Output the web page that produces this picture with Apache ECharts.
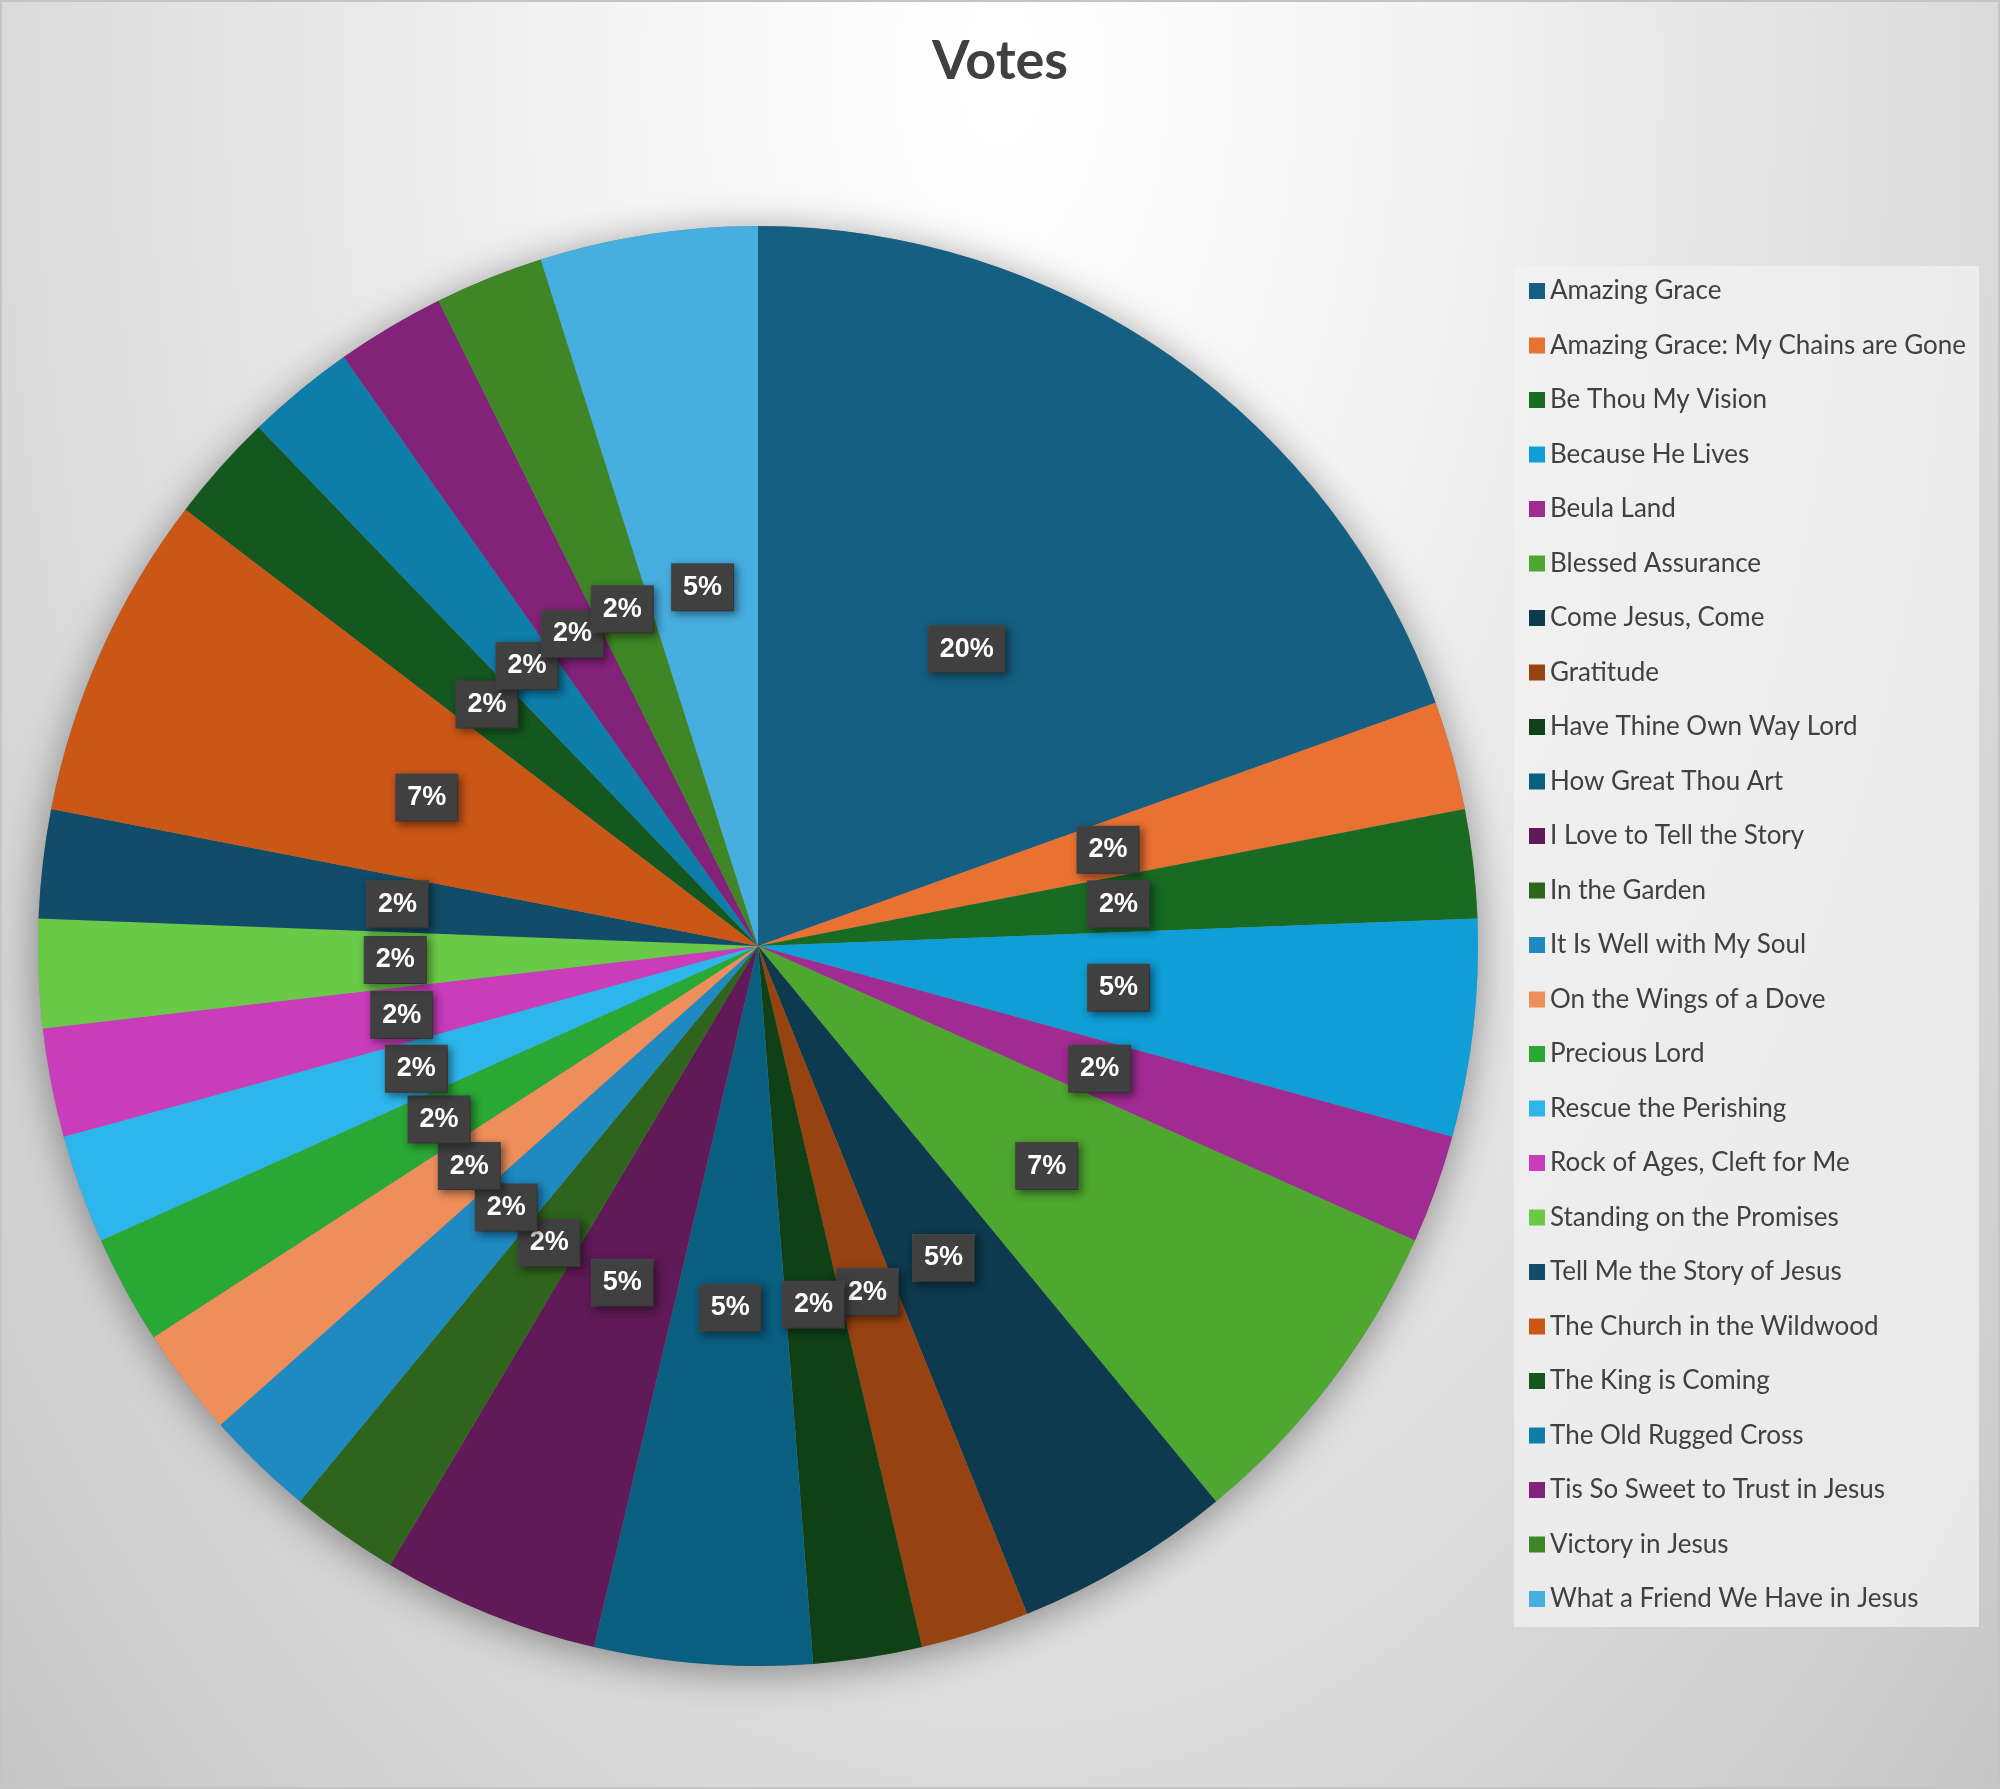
<!DOCTYPE html>
<html>
<head>
<meta charset="utf-8">
<title>Votes</title>
<script src="https://cdn.jsdelivr.net/npm/echarts@6/dist/echarts.min.js"></script>
<style>
    html, body { margin: 0; padding: 0; }
    #chart {
        width: 2000px;
        height: 1789px;
        box-sizing: border-box;
        border: 2px solid #c4c4c4;
        background: radial-gradient(ellipse at 50% 4%, #ffffff 0%, #f6f6f6 25%, #dcdcdc 68%, #c6c6c6 100%);
    }
</style>
</head>
<body>
<div id="chart"></div>
<script>
    // 歌曲名称（图例顺序）
    var songNames = [
        'Amazing Grace',
        'Amazing Grace: My Chains are Gone',
        'Be Thou My Vision',
        'Because He Lives',
        'Beula Land',
        'Blessed Assurance',
        'Come Jesus, Come',
        'Gratitude',
        'Have Thine Own Way Lord',
        'How Great Thou Art',
        'I Love to Tell the Story',
        'In the Garden',
        'It Is Well with My Soul',
        'On the Wings of a Dove',
        'Precious Lord',
        'Rescue the Perishing',
        'Rock of Ages, Cleft for Me',
        'Standing on the Promises',
        'Tell Me the Story of Jesus',
        'The Church in the Wildwood',
        'The King is Coming',
        'The Old Rugged Cross',
        'Tis So Sweet to Trust in Jesus',
        'Victory in Jesus',
        'What a Friend We Have in Jesus'
    ];

    // 票数
    var voteCounts = [8, 1, 1, 2, 1, 3, 2, 1, 1, 2, 2, 1, 1, 1, 1, 1, 1, 1, 1, 3, 1, 1, 1, 1, 2];

    // 扇区颜色
    var sliceColors = [
        '#156082', '#E97132', '#196B24', '#0F9ED5', '#A02B93', '#4EA72E',
        '#0D3A4F', '#974311', '#0F4016', '#095F80', '#601A58', '#2F641C',
        '#1F89C1', '#EE8E5B', '#2AA836', '#2DB6EC', '#C93DBB', '#69CA47',
        '#114D68', '#CB5716', '#15581F', '#0D7EAA', '#822278', '#3F8726',
        '#47AEE0'
    ];

    var totalVotes = 0;
    for (var i = 0; i < voteCounts.length; i++) {
        totalVotes += voteCounts[i];
    }

    var pieData = [];
    for (var j = 0; j < songNames.length; j++) {
        pieData.push({
            name: songNames[j],
            value: voteCounts[j],
            itemStyle: { color: sliceColors[j] }
        });
    }

    var chart = echarts.init(document.getElementById('chart'), null, { renderer: 'canvas' });
    var option = {
        backgroundColor: 'transparent',
        animation: false,
        title: {
            text: 'Votes',
            left: 'center',
            top: 28,
            textStyle: {
                fontFamily: 'Lato',
                fontWeight: 'bold',
                fontSize: 54,
                color: '#404040'
            }
        },
        legend: {
            orient: 'vertical',
            left: 1512,
            top: 264,
            data: songNames,
            icon: 'rect',
            itemWidth: 16,
            itemHeight: 16,
            itemGap: 24.5,
            padding: [10, 13, 13, 15],
            backgroundColor: 'rgba(242,242,242,0.75)',
            selectedMode: false,
            textStyle: {
                fontFamily: 'Lato',
                fontSize: 26,
                lineHeight: 30,
                color: '#404040',
                padding: [0, 0, 0, 0]
            }
        },
        series: [
            {
                // 阴影底盘
                type: 'pie',
                silent: true,
                center: [756, 944],
                radius: 720,
                label: { show: false },
                labelLine: { show: false },
                itemStyle: {
                    color: '#888888',
                    shadowBlur: 40,
                    shadowColor: 'rgba(0,0,0,0.4)',
                    shadowOffsetY: 6
                },
                data: [{ name: 'base', value: 1 }]
            },
            {
                name: 'Votes',
                type: 'pie',
                center: [756, 944],
                radius: 720,
                startAngle: 90,
                clockwise: true,
                avoidLabelOverlap: false,
                minShowLabelAngle: 0,
                labelLayout: { hideOverlap: false },
                itemStyle: { borderWidth: 0 },
                label: {
                    show: true,
                    position: 'inside',
                    formatter: function (params) {
                        return Math.round(params.value / totalVotes * 100) + '%';
                    },
                    fontFamily: 'Liberation Sans',
                    fontWeight: 'bold',
                    fontSize: 27,
                    lineHeight: 30,
                    color: '#ffffff',
                    backgroundColor: '#404040',
                    borderColor: '#4a4a4a',
                    borderWidth: 1,
                    padding: [8, 11, 8, 11],
                    shadowBlur: 8,
                    shadowColor: 'rgba(0,0,0,0.45)',
                    shadowOffsetX: 3,
                    shadowOffsetY: 3
                },
                labelLine: { show: false },
                data: pieData
            }
        ]
    };
    chart.setOption(option);
</script>
</body>
</html>
